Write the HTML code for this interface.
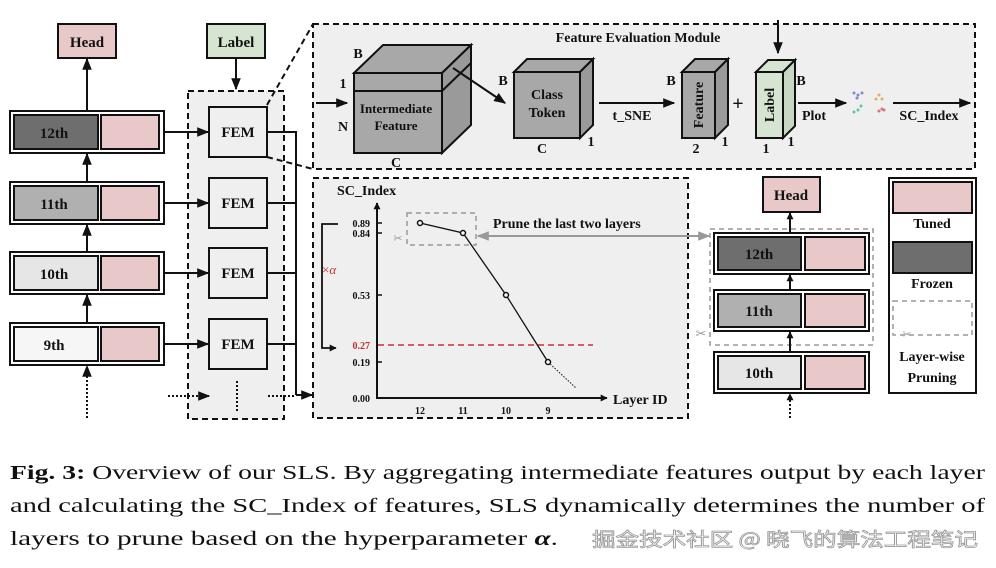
<!DOCTYPE html>
<html><head><meta charset="utf-8"><style>
html,body{margin:0;padding:0;background:#fff;}
svg{display:block;}
.b{font-family:"Liberation Serif",serif;font-weight:bold;fill:#111;}
.cap{font-family:"Liberation Serif",serif;font-size:20px;fill:#111;}
</style></head><body>
<svg width="996" height="568" viewBox="0 0 996 568" xmlns="http://www.w3.org/2000/svg">
<defs>
<marker id="ar" viewBox="0 0 10 10" refX="9" refY="5" markerWidth="7" markerHeight="7" orient="auto-start-reverse" markerUnits="userSpaceOnUse"><path d="M0,0 L10,5 L0,10 z" fill="#111"/></marker>
<marker id="arL" viewBox="0 0 10 10" refX="9" refY="5" markerWidth="12" markerHeight="12" orient="auto-start-reverse" markerUnits="userSpaceOnUse"><path d="M0,1 L10,5 L0,9 z" fill="#111"/></marker>
<marker id="arG" viewBox="0 0 10 10" refX="9" refY="5" markerWidth="12" markerHeight="12" orient="auto-start-reverse" markerUnits="userSpaceOnUse"><path d="M0,1 L10,5 L0,9 z" fill="#999"/></marker>
</defs>

<!-- Left: head/label -->
<rect x="58" y="24" width="58" height="34" fill="#e8c8c8" stroke="#111" stroke-width="2"/>
<text class="b" x="87" y="47" font-size="15" text-anchor="middle">Head</text>
<rect x="207" y="24" width="58" height="34" fill="#d6e4d2" stroke="#111" stroke-width="2"/>
<text class="b" x="236" y="47" font-size="15" text-anchor="middle">Label</text>
<line x1="236" y1="58" x2="236" y2="89" stroke="#111" stroke-width="2" marker-end="url(#arL)"/>

<!-- FEM region -->
<rect x="188" y="91" width="96" height="328" fill="#efefef" stroke="#111" stroke-width="2" stroke-dasharray="6,4"/>

<!-- layer stack left -->
<g stroke="#111">
<line x1="87" y1="111" x2="87" y2="59" stroke-width="2" marker-end="url(#arL)"/>
<line x1="87" y1="182" x2="87" y2="154" stroke-width="2" marker-end="url(#arL)"/>
<line x1="87" y1="252" x2="87" y2="225" stroke-width="2" marker-end="url(#arL)"/>
<line x1="87" y1="323" x2="87" y2="295" stroke-width="2" marker-end="url(#arL)"/>
<line x1="87" y1="418" x2="87" y2="366" stroke-width="2" stroke-dasharray="2,2" marker-end="url(#arL)"/>
</g>
<g stroke="#111" stroke-width="2">
<rect x="10" y="111" width="154" height="42" fill="#fff"/><rect x="14" y="115" width="84" height="34" fill="#6e6e6e"/><rect x="101" y="115" width="58" height="34" fill="#e8c8c8"/>
<rect x="10" y="182" width="154" height="42" fill="#fff"/><rect x="14" y="186" width="84" height="34" fill="#b0b0b0"/><rect x="101" y="186" width="58" height="34" fill="#e8c8c8"/>
<rect x="10" y="252" width="154" height="42" fill="#fff"/><rect x="14" y="256" width="84" height="34" fill="#e6e6e6"/><rect x="101" y="256" width="58" height="34" fill="#e8c8c8"/>
<rect x="10" y="323" width="154" height="42" fill="#fff"/><rect x="14" y="327" width="84" height="34" fill="#f6f6f6"/><rect x="101" y="327" width="58" height="34" fill="#e8c8c8"/>
</g>
<text class="b" x="54" y="138" font-size="15" text-anchor="middle">12th</text>
<text class="b" x="54" y="209" font-size="15" text-anchor="middle">11th</text>
<text class="b" x="54" y="279" font-size="15" text-anchor="middle">10th</text>
<text class="b" x="54" y="350" font-size="15" text-anchor="middle">9th</text>

<!-- FEM boxes -->
<g stroke="#111" stroke-width="2">
<line x1="164" y1="132" x2="208" y2="132" marker-end="url(#arL)"/>
<line x1="164" y1="203" x2="208" y2="203" marker-end="url(#arL)"/>
<line x1="164" y1="273" x2="208" y2="273" marker-end="url(#arL)"/>
<line x1="164" y1="344" x2="208" y2="344" marker-end="url(#arL)"/>
<rect x="209" y="107" width="58" height="50" fill="#efefef"/>
<rect x="209" y="178" width="58" height="50" fill="#efefef"/>
<rect x="209" y="248" width="58" height="50" fill="#efefef"/>
<rect x="209" y="319" width="58" height="50" fill="#efefef"/>
<polyline points="267,132 296,132 296,395" fill="none"/>
<line x1="267" y1="203" x2="296" y2="203"/>
<line x1="267" y1="273" x2="296" y2="273"/>
<line x1="267" y1="344" x2="296" y2="344"/>
<line x1="296" y1="395" x2="312" y2="395" marker-end="url(#arL)"/>
<line x1="168" y1="396" x2="209" y2="396" stroke-dasharray="2,2" marker-end="url(#arL)"/>
<line x1="268" y1="396" x2="296" y2="396" stroke-dasharray="2,2"/>
<line x1="237" y1="381" x2="237" y2="412" stroke-dasharray="2,2"/>
</g>
<text class="b" x="238" y="137" font-size="15" text-anchor="middle">FEM</text>
<text class="b" x="238" y="208" font-size="15" text-anchor="middle">FEM</text>
<text class="b" x="238" y="278" font-size="15" text-anchor="middle">FEM</text>
<text class="b" x="238" y="349" font-size="15" text-anchor="middle">FEM</text>

<!-- zoom lines -->
<line x1="267" y1="105" x2="313" y2="24" stroke="#111" stroke-width="2" stroke-dasharray="6,4"/>
<line x1="267" y1="157" x2="313" y2="169" stroke="#111" stroke-width="2" stroke-dasharray="6,4"/>

<!-- Feature Evaluation Module -->
<rect x="313" y="24" width="662" height="145" fill="#efefef" stroke="#111" stroke-width="2" stroke-dasharray="6,4"/>
<text class="b" x="638" y="42" font-size="14" text-anchor="middle">Feature Evaluation Module</text>
<line x1="316" y1="103" x2="347" y2="103" stroke="#111" stroke-width="2" marker-end="url(#arL)"/>
<!-- cube -->
<g stroke="#111" stroke-width="2" fill="#a8a8a8">
<polygon points="354,73 383,45 471,45 442,73"/>
<polygon points="442,73 471,45 471,125 442,153" fill="#9a9a9a"/>
<rect x="354" y="73" width="88" height="80"/>
<line x1="354" y1="91" x2="442" y2="91"/>
<line x1="442" y1="91" x2="471" y2="63"/>
</g>
<text class="b" x="396" y="113" font-size="13" text-anchor="middle">Intermediate</text>
<text class="b" x="396" y="130" font-size="13" text-anchor="middle">Feature</text>
<text class="b" x="358" y="58" font-size="14" text-anchor="middle">B</text>
<text class="b" x="343" y="88" font-size="14" text-anchor="middle">1</text>
<text class="b" x="343" y="131" font-size="14" text-anchor="middle">N</text>
<text class="b" x="396" y="167" font-size="14" text-anchor="middle">C</text>
<line x1="453" y1="68" x2="505" y2="103" stroke="#111" stroke-width="2" marker-end="url(#arL)"/>
<!-- class token -->
<g stroke="#111" stroke-width="2" fill="#a8a8a8">
<polygon points="514,72 527,59 593,59 580,72"/>
<polygon points="580,72 593,59 593,125 580,138" fill="#9a9a9a"/>
<rect x="514" y="72" width="66" height="66"/>
</g>
<text class="b" x="547" y="99" font-size="14" text-anchor="middle">Class</text>
<text class="b" x="547" y="117" font-size="14" text-anchor="middle">Token</text>
<text class="b" x="503" y="85" font-size="14" text-anchor="middle">B</text>
<text class="b" x="542" y="153" font-size="14" text-anchor="middle">C</text>
<text class="b" x="591" y="146" font-size="14" text-anchor="middle">1</text>
<line x1="599" y1="103" x2="674" y2="103" stroke="#111" stroke-width="2" marker-end="url(#arL)"/>
<text class="b" x="632" y="120" font-size="14" text-anchor="middle">t_SNE</text>
<!-- feature slab -->
<g stroke="#111" stroke-width="2" fill="#a8a8a8">
<polygon points="682,72 695,59 728,59 715,72"/>
<polygon points="715,72 728,59 728,125 715,138" fill="#9a9a9a"/>
<rect x="682" y="72" width="33" height="66"/>
</g>
<text class="b" font-size="14" text-anchor="middle" transform="translate(703,105) rotate(-90)">Feature</text>
<text class="b" x="671" y="85" font-size="14" text-anchor="middle">B</text>
<text class="b" x="696" y="153" font-size="14" text-anchor="middle">2</text>
<text class="b" x="725" y="146" font-size="14" text-anchor="middle">1</text>
<text class="b" x="738" y="110" font-size="20" text-anchor="middle">+</text>
<!-- label slab -->
<g stroke="#111" stroke-width="2" fill="#d6e4d2">
<polygon points="756,72 768,60 795,60 783,72"/>
<polygon points="783,72 795,60 795,126 783,138" fill="#c8d6c4"/>
<rect x="756" y="72" width="27" height="66"/>
</g>
<text class="b" font-size="14" text-anchor="middle" transform="translate(774,105) rotate(-90)">Label</text>
<line x1="778" y1="20" x2="778" y2="53" stroke="#111" stroke-width="2" marker-end="url(#arL)"/>
<text class="b" x="801" y="85" font-size="14" text-anchor="middle">B</text>
<text class="b" x="766" y="153" font-size="14" text-anchor="middle">1</text>
<text class="b" x="791" y="146" font-size="14" text-anchor="middle">1</text>
<line x1="798" y1="103" x2="846" y2="103" stroke="#111" stroke-width="2" marker-end="url(#arL)"/>
<text class="b" x="814" y="120" font-size="14" text-anchor="middle">Plot</text>
<g>
<circle cx="854" cy="93" r="1.5" fill="#7a8fd0"/><circle cx="858" cy="95" r="1.5" fill="#7a8fd0"/><circle cx="862" cy="93" r="1.5" fill="#7a8fd0"/><circle cx="857" cy="98" r="1.5" fill="#7a8fd0"/>
<circle cx="879" cy="95" r="1.5" fill="#e0b060"/><circle cx="876" cy="99" r="1.5" fill="#e0b060"/><circle cx="882" cy="99" r="1.5" fill="#e0b060"/>
<circle cx="854" cy="112" r="1.5" fill="#60c8a0"/><circle cx="858" cy="110" r="1.5" fill="#60c8a0"/><circle cx="861" cy="106" r="1.5" fill="#60c8a0"/>
<circle cx="879" cy="111" r="1.5" fill="#e07080"/><circle cx="882" cy="109" r="1.5" fill="#e07080"/><circle cx="884" cy="110" r="1.5" fill="#e07080"/>
</g>
<line x1="893" y1="103" x2="970" y2="103" stroke="#111" stroke-width="2" marker-end="url(#arL)"/>
<text class="b" x="929" y="120" font-size="14" text-anchor="middle">SC_Index</text>

<!-- Chart -->
<rect x="313" y="178" width="375" height="240" fill="#efefef" stroke="#111" stroke-width="2" stroke-dasharray="6,4"/>
<text class="b" x="337" y="195" font-size="14">SC_Index</text>
<line x1="377" y1="399" x2="377" y2="203" stroke="#111" stroke-width="2" marker-end="url(#ar)"/>
<line x1="376" y1="398" x2="607" y2="398" stroke="#111" stroke-width="2" marker-end="url(#ar)"/>
<text class="b" x="613" y="404" font-size="14">Layer ID</text>
<g class="b" font-size="10" text-anchor="end">
<text x="370" y="227">0.89</text><text x="370" y="237">0.84</text><text x="370" y="299">0.53</text>
<text x="370" y="349" fill="#c03030" style="fill:#c03030">0.27</text><text x="370" y="366">0.19</text><text x="370" y="402">0.00</text>
</g>
<g stroke="#111" stroke-width="1.5">
<line x1="377" y1="223" x2="382" y2="223"/><line x1="377" y1="233" x2="382" y2="233"/><line x1="377" y1="295" x2="382" y2="295"/><line x1="377" y1="362" x2="382" y2="362"/>
</g>
<g class="b" font-size="10" text-anchor="middle">
<text x="420" y="414">12</text><text x="463" y="414">11</text><text x="506" y="414">10</text><text x="548" y="414">9</text>
</g>
<line x1="378" y1="345" x2="593" y2="345" stroke="#c83030" stroke-width="1.5" stroke-dasharray="6,4"/>
<polyline points="420,223 463,233 506,295 548,362" fill="none" stroke="#111" stroke-width="1.3"/>
<line x1="548" y1="362" x2="576" y2="388" stroke="#111" stroke-width="1" stroke-dasharray="1.5,1.5"/>
<g fill="#fff" stroke="#111" stroke-width="1.5">
<circle cx="420" cy="223" r="2.5"/><circle cx="463" cy="233" r="2.5"/><circle cx="506" cy="295" r="2.5"/><circle cx="548" cy="362" r="2.5"/>
</g>
<polyline points="338,224 322,224 322,348 336,348" fill="none" stroke="#111" stroke-width="1.8" marker-end="url(#ar)"/>
<text x="322" y="274" font-family="Liberation Serif,serif" font-size="13" fill="#c03030">×<tspan font-style="italic">α</tspan></text>
<rect x="407" y="213" width="69" height="32" fill="none" stroke="#999" stroke-width="1.5" stroke-dasharray="5,4"/>
<text x="398" y="242" font-family="DejaVu Sans,sans-serif" font-size="11" fill="#999" text-anchor="middle">✂</text>
<text class="b" x="493" y="228" font-size="14">Prune the last two layers</text>
<line x1="478" y1="236" x2="709" y2="236" stroke="#999" stroke-width="2" marker-start="url(#arG)" marker-end="url(#arG)"/>

<!-- Right stack -->
<rect x="763" y="177" width="57" height="35" fill="#e8c8c8" stroke="#111" stroke-width="2"/>
<text class="b" x="791" y="200" font-size="15" text-anchor="middle">Head</text>
<rect x="710" y="229" width="163" height="116" fill="none" stroke="#999" stroke-width="1.5" stroke-dasharray="5,4"/>
<text x="701" y="338" font-family="DejaVu Sans,sans-serif" font-size="13" fill="#999" text-anchor="middle">✂</text>
<g stroke="#111" stroke-width="2">
<line x1="790" y1="233" x2="790" y2="213" marker-end="url(#ar)"/>
<line x1="790" y1="290" x2="790" y2="275" marker-end="url(#ar)"/>
<line x1="790" y1="352" x2="790" y2="332" marker-end="url(#ar)"/>
<line x1="790" y1="418" x2="790" y2="394" stroke-dasharray="2,2" marker-end="url(#ar)"/>
<rect x="714" y="233" width="155" height="41" fill="#fff"/><rect x="718" y="237" width="83" height="33" fill="#6e6e6e"/><rect x="805" y="237" width="60" height="33" fill="#e8c8c8"/>
<rect x="714" y="290" width="155" height="41" fill="#fff"/><rect x="718" y="294" width="83" height="33" fill="#b0b0b0"/><rect x="805" y="294" width="60" height="33" fill="#e8c8c8"/>
<rect x="714" y="352" width="155" height="41" fill="#fff"/><rect x="718" y="356" width="83" height="33" fill="#e6e6e6"/><rect x="805" y="356" width="60" height="33" fill="#e8c8c8"/>
</g>
<text class="b" x="759" y="259" font-size="15" text-anchor="middle">12th</text>
<text class="b" x="759" y="316" font-size="15" text-anchor="middle">11th</text>
<text class="b" x="759" y="378" font-size="15" text-anchor="middle">10th</text>

<!-- Legend -->
<rect x="889" y="178" width="87" height="215" fill="#fff" stroke="#111" stroke-width="2"/>
<rect x="893" y="182" width="79" height="31" fill="#e8c8c8" stroke="#111" stroke-width="2"/>
<text class="b" x="932" y="228" font-size="14" text-anchor="middle">Tuned</text>
<rect x="893" y="242" width="79" height="31" fill="#6e6e6e" stroke="#111" stroke-width="2"/>
<text class="b" x="932" y="288" font-size="14" text-anchor="middle">Frozen</text>
<rect x="893" y="301" width="79" height="34" fill="none" stroke="#999" stroke-width="1.5" stroke-dasharray="5,4"/>
<text x="907" y="338" font-family="DejaVu Sans,sans-serif" font-size="11" fill="#999" text-anchor="middle">✂</text>
<text class="b" x="932" y="361" font-size="14" text-anchor="middle">Layer-wise</text>
<text class="b" x="932" y="382" font-size="14" text-anchor="middle">Pruning</text>

<!-- Caption -->
<text class="cap" x="10" y="479" textLength="975" lengthAdjust="spacingAndGlyphs"><tspan font-weight="bold">Fig. 3:</tspan> Overview of our SLS. By aggregating intermediate features output by each layer</text>
<text class="cap" x="10" y="512" textLength="975" lengthAdjust="spacingAndGlyphs">and calculating the SC_Index of features, SLS dynamically determines the number of</text>
<text class="cap" x="10" y="545" textLength="548" lengthAdjust="spacingAndGlyphs">layers to prune based on the hyperparameter <tspan font-weight="bold" font-style="italic">α</tspan>.</text>
<text x="592" y="546" font-family="'Noto Sans CJK SC',sans-serif" font-size="19" fill="#fff" stroke="#999" stroke-width="0.8" textLength="386" lengthAdjust="spacingAndGlyphs">掘金技术社区 @ 晓飞的算法工程笔记</text>
</svg>
</body></html>
